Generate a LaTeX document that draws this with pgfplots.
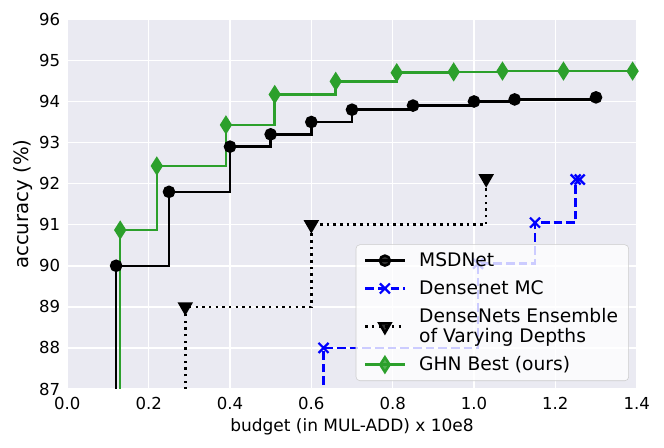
\documentclass[border=0pt]{standalone}
\usepackage{fontspec}
\setmainfont{DejaVu Sans}
\usepackage{pgfplots}
\pgfplotsset{compat=1.18}
\definecolor{bg}{HTML}{EAEAF2}
\definecolor{ghn}{HTML}{2CA02C}
\begin{document}
\begin{tikzpicture}
\useasboundingbox (-50.5pt,-44.25pt) rectangle (447.5pt,291.75pt);
\begin{axis}[
  at={(0pt,0pt)}, anchor=south west,
  scale only axis, width=427pt, height=277.25pt,
  xmin=0, xmax=1.4, ymin=87, ymax=96,
  xtick={0,0.2,0.4,0.6,0.8,1.0,1.2,1.4},
  ytick={87,88,89,90,91,92,93,94,95,96},
  xticklabel style={/pgf/number format/.cd, fixed, fixed zerofill, precision=1, /tikz/.cd, inner sep=0pt, yshift=-5.8pt, font=\fontsize{12.4}{14}\selectfont},
  yticklabel style={inner sep=0pt, xshift=-5.25pt, font=\fontsize{12.4}{14}\selectfont},
  /pgf/number format/assume math mode=true,
  axis background/.style={fill=bg},
  axis line style={draw=none},
  tick style={draw=none},
  grid=major,
  major grid style={white, line width=1.1pt},
  xlabel={budget (in MUL-ADD) x 10e8},
  ylabel={accuracy (\%)},
  xlabel style={at={([yshift=-32.25pt]axis description cs:0.5,0)}, anchor=base, inner sep=0pt, font=\fontsize{12.75}{14}\selectfont},
  ylabel style={at={([xshift=-33.5pt]axis description cs:0,0.5)}, anchor=center, inner sep=0pt, font=\fontsize{14.8}{16}\selectfont},
  legend style={at={(0.9865,0.0216)}, anchor=south east, fill=white, fill opacity=0.8, text opacity=1, draw=black!20, draw opacity=1, rounded corners=3pt, font=\fontsize{14}{15}\selectfont, inner xsep=6pt, inner ysep=4pt, row sep=5pt, column sep=8pt, cells={anchor=west, align=left}},
  legend cell align=left,
  legend image code/.code={\draw[mark repeat=2,mark phase=2,#1,sharp plot] plot coordinates {(0pt,0pt) (14.75pt,0pt) (29.5pt,0pt)};},
]
\addplot[const plot, black, line width=1.9pt, mark=*, mark size=3.75pt, mark options={solid}] coordinates {
(0.12,80) (0.12,90.0) (0.25,91.8) (0.40,92.9) (0.50,93.2) (0.60,93.5) (0.70,93.8) (0.85,93.9) (1.00,94.0) (1.10,94.05) (1.30,94.1)};
\addlegendentry{MSDNet}
\addplot[const plot, blue, line width=1.9pt, dash pattern=on 6.5pt off 3pt, mark=x, mark size=5.3pt, mark options={solid, line width=1.7pt}] coordinates {
(0.63,80) (0.63,88.0) (1.01,90.05) (1.15,91.05) (1.25,92.1) (1.26,92.1)};
\addlegendentry{Densenet MC}
\addplot[const plot, black, line width=1.9pt, dash pattern=on 1.9pt off 3.1pt, mark=triangle*, mark size=4.8pt, mark options={solid, rotate=180}] coordinates {
(0.29,80) (0.29,89.0) (0.60,91.0) (1.03,92.12)};
\addlegendentry{DenseNets Ensemble\\of Varying Depths}
\addplot[const plot, ghn, line width=1.9pt, mark=diamond*, mark size=5.5pt, mark options={solid, xscale=0.85}] coordinates {
(0.13,80) (0.13,90.87) (0.22,92.43) (0.39,93.43) (0.51,94.17) (0.66,94.49) (0.81,94.70) (0.95,94.72) (1.07,94.74) (1.22,94.74) (1.39,94.74)};
\addlegendentry{GHN Best (ours)}
\end{axis}
\end{tikzpicture}
\end{document}
